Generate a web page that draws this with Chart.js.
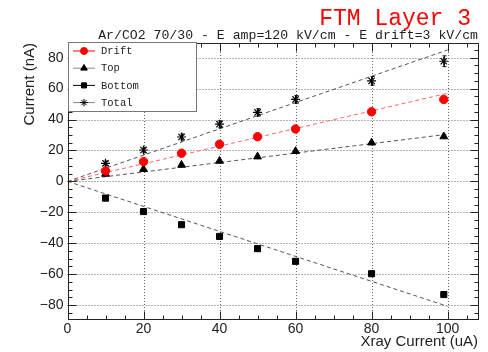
<!DOCTYPE html>
<html>
<head>
<meta charset="utf-8">
<script src="https://cdn.jsdelivr.net/npm/chart.js@4.4.0/dist/chart.umd.min.js"></script>
<style>
html, body { margin: 0; padding: 0; background: #fff; }
</style>
</head>
<body>
<canvas id="myChart" width="488" height="352"></canvas>
<script>

// Xray tube current (uA)
var xray = [10, 20, 30, 40, 50, 60, 80, 99];

// measured currents (nA)
var driftVals  = [6.8, 12.8, 18.2, 24.0, 28.9, 33.9, 45.0, 53.0];
var topVals    = [4.8, 7.9, 10.6, 13.2, 16.0, 19.5, 25.0, 29.0];
var bottomVals = [-10.8, -19.5, -28.0, -35.6, -43.5, -51.7, -59.7, -73.2];
var totalVals  = [11.7, 20.3, 28.7, 37.0, 44.6, 53.0, 65.0, 77.7];
var totalErr   = [1.5, 1.8, 2.0, 2.2, 2.4, 2.5, 2.8, 3.5];

// linear fits through the origin (start / end of each line)
var fitX      = [0, 100];
var fitDrift  = [0, 57];
var fitTop    = [0, 30.5];
var fitBottom = [0, -80.8];
var fitTotal  = [0, 85];

var xTicks = [0, 20, 40, 60, 80, 100];
var yTicks = [-80, -60, -40, -20, 0, 20, 40, 60, 80];

var mono = "'Liberation Mono', 'DejaVu Sans Mono', monospace";
var sans = "'Liberation Sans', Arial, sans-serif";

const pts = (ys) => xray.map((x, i) => ({x: x, y: ys[i]}));
const fit = (ys) => fitX.map((x, i) => ({x: x, y: ys[i]}));

// grid, ROOT style frame with inner ticks, error bars, legend box and titles
var rootFrame = {
    id: 'rootFrame',
    beforeDatasetsDraw(chart) {
        var ctx = chart.ctx, a = chart.chartArea;
        var sx = chart.scales.x, sy = chart.scales.y;
        ctx.save();
        ctx.strokeStyle = '#666';
        ctx.lineWidth = 1;
        ctx.setLineDash([1, 2]);
        xTicks.forEach(v => {
            if (v <= sx.min) return;
            var px = Math.round(sx.getPixelForValue(v)) + 0.5;
            ctx.beginPath(); ctx.moveTo(px, a.top); ctx.lineTo(px, a.bottom); ctx.stroke();
        });
        yTicks.forEach(v => {
            var py = Math.round(sy.getPixelForValue(v)) + 0.5;
            ctx.beginPath(); ctx.moveTo(a.left, py); ctx.lineTo(a.right, py); ctx.stroke();
        });
        ctx.restore();
    },
    afterDatasetsDraw(chart) {
        var ctx = chart.ctx, a = chart.chartArea;
        var sx = chart.scales.x, sy = chart.scales.y;
        ctx.save();

        // error bars on the total current
        ctx.strokeStyle = '#111';
        ctx.lineWidth = 1;
        xray.forEach((x, i) => {
            var px = Math.round(sx.getPixelForValue(x)) + 0.5;
            var y1 = sy.getPixelForValue(totalVals[i] + totalErr[i]);
            var y2 = sy.getPixelForValue(totalVals[i] - totalErr[i]);
            ctx.beginPath();
            ctx.moveTo(px, y1); ctx.lineTo(px, y2);
            ctx.moveTo(px - 2, y1); ctx.lineTo(px + 2, y1);
            ctx.moveTo(px - 2, y2); ctx.lineTo(px + 2, y2);
            ctx.stroke();
        });

        // frame
        ctx.strokeStyle = '#222';
        var L = Math.round(a.left) + 0.5, R = Math.round(a.right) + 0.5;
        var T = Math.round(a.top) + 0.5, B = Math.round(a.bottom) + 0.5;
        ctx.strokeRect(L, T, R - L, B - T);

        // tick marks on all four sides, minor every 5
        ctx.beginPath();
        for (var v = 5; v < sx.max; v += 5) {
            var px = Math.round(sx.getPixelForValue(v)) + 0.5;
            var len = (v % 20 === 0) ? 8 : 4;
            ctx.moveTo(px, B); ctx.lineTo(px, B - len);
            ctx.moveTo(px, T); ctx.lineTo(px, T + len);
        }
        for (var w = -85; w < sy.max; w += 5) {
            var py = Math.round(sy.getPixelForValue(w)) + 0.5;
            var ln = (w % 20 === 0) ? 8 : 4;
            ctx.moveTo(L, py); ctx.lineTo(L + ln, py);
            ctx.moveTo(R, py); ctx.lineTo(R - ln, py);
        }
        ctx.stroke();

        // legend box
        var lx = 68.5, ly = 42.5, lw = 128, lh = 69;
        ctx.fillStyle = '#fff';
        ctx.fillRect(lx, ly, lw, lh);
        ctx.strokeStyle = '#777';
        ctx.strokeRect(lx, ly, lw, lh);
        var rows = chart.data.datasets.filter(d => d.inLegend);
        rows.forEach((d, i) => {
            var ry = 51 + i * 17.2;
            ctx.strokeStyle = d.legendLine;
            ctx.lineWidth = 1;
            ctx.beginPath(); ctx.moveTo(73, ry); ctx.lineTo(95, ry); ctx.stroke();
            ctx.fillStyle = d.pointBackgroundColor;
            ctx.strokeStyle = d.pointBorderColor;
            Chart.helpers.drawPoint(ctx, {
                pointStyle: d.pointStyle, radius: d.pointRadius - 0.7,
                rotation: 0, borderWidth: d.pointBorderWidth
            }, 84, ry);
            ctx.fillStyle = '#222';
            ctx.font = '10.5px ' + mono;
            ctx.textAlign = 'left';
            ctx.textBaseline = 'middle';
            ctx.fillText(d.label, 101, ry + 0.5);
        });

        // titles
        ctx.textBaseline = 'alphabetic';
        ctx.textAlign = 'right';
        ctx.fillStyle = '#222';
        ctx.font = '13.2px ' + mono;
        ctx.fillText('Ar/CO2 70/30 - E amp=120 kV/cm - E drift=3 kV/cm', 478, 39);
        ctx.fillStyle = '#f00';
        ctx.font = '23px ' + mono;
        ctx.fillText('FTM Layer 3', 471, 25);

        ctx.restore();
    }
};

// ROOT prints a real minus sign on the axis labels
const minusLabel = (v) => String(v).replace('-', '\u2212');

new Chart("myChart", {
    type: "scatter",
    data: {
        datasets: [
        { label: 'Drift', inLegend: true, legendLine: '#f00', data: pts(driftVals),
          pointStyle: 'circle', pointRadius: 4.2, pointBackgroundColor: '#f00',
          pointBorderColor: '#f00', pointBorderWidth: 1 },
        { label: 'Top', inLegend: true, legendLine: '#888', data: pts(topVals),
          pointStyle: 'triangle', pointRadius: 4.5, pointBackgroundColor: '#000',
          pointBorderColor: '#000', pointBorderWidth: 1 },
        { label: 'Bottom', inLegend: true, legendLine: '#000', data: pts(bottomVals),
          pointStyle: 'rect', pointRadius: 4.3, pointBackgroundColor: '#000',
          pointBorderColor: '#000', pointBorderWidth: 1 },
        { label: 'Total', inLegend: true, legendLine: '#888', data: pts(totalVals),
          pointStyle: 'star', pointRadius: 4.5, pointBackgroundColor: '#000',
          pointBorderColor: '#000', pointBorderWidth: 1.2 },
        { label: 'fit drift', data: fit(fitDrift), showLine: true, pointRadius: 0,
          borderColor: '#f66', borderWidth: 1, borderDash: [4, 3] },
        { label: 'fit top', data: fit(fitTop), showLine: true, pointRadius: 0,
          borderColor: '#555', borderWidth: 1, borderDash: [4, 3] },
        { label: 'fit bottom', data: fit(fitBottom), showLine: true, pointRadius: 0,
          borderColor: '#555', borderWidth: 1, borderDash: [4, 3] },
        { label: 'fit total', data: fit(fitTotal), showLine: true, pointRadius: 0,
          borderColor: '#555', borderWidth: 1, borderDash: [4, 3] }
        ]
    },
    options: {
        responsive: false,
        animation: false,
        devicePixelRatio: 1,
        layout: { padding: { top: 43, right: 10, left: 0, bottom: 0 } },
        plugins: { legend: { display: false }, tooltip: { enabled: false } },
        scales: {
            x: {
                type: 'linear', min: 0, max: 108,
                grid: { display: false, drawTicks: false }, border: { display: false },
                afterBuildTicks: (s) => { s.ticks = xTicks.map(v => ({value: v})); },
                afterFit: (s) => { s.height = 33; },
                ticks: { font: { family: sans, size: 14 }, color: '#222', padding: 2,
                         maxRotation: 0, autoSkip: false },
                title: { display: true, text: 'Xray Current (uA)', align: 'end',
                         font: { family: sans, size: 15 }, color: '#222',
                         padding: { top: 0, bottom: 1 } }
            },
            y: {
                type: 'linear', min: -89, max: 89.5,
                grid: { display: false, drawTicks: false }, border: { display: false },
                afterBuildTicks: (s) => { s.ticks = yTicks.map(v => ({value: v})); },
                afterFit: (s) => { s.width = 67.5; },
                ticks: { font: { family: sans, size: 14 }, color: '#222', padding: 4,
                         autoSkip: false, callback: minusLabel },
                title: { display: true, text: 'Current (nA)', align: 'end',
                         font: { family: sans, size: 15 }, color: '#222',
                         padding: { top: 21, bottom: 0 } }
            }
        }
    },
    plugins: [rootFrame]
});

</script>
</body>
</html>
